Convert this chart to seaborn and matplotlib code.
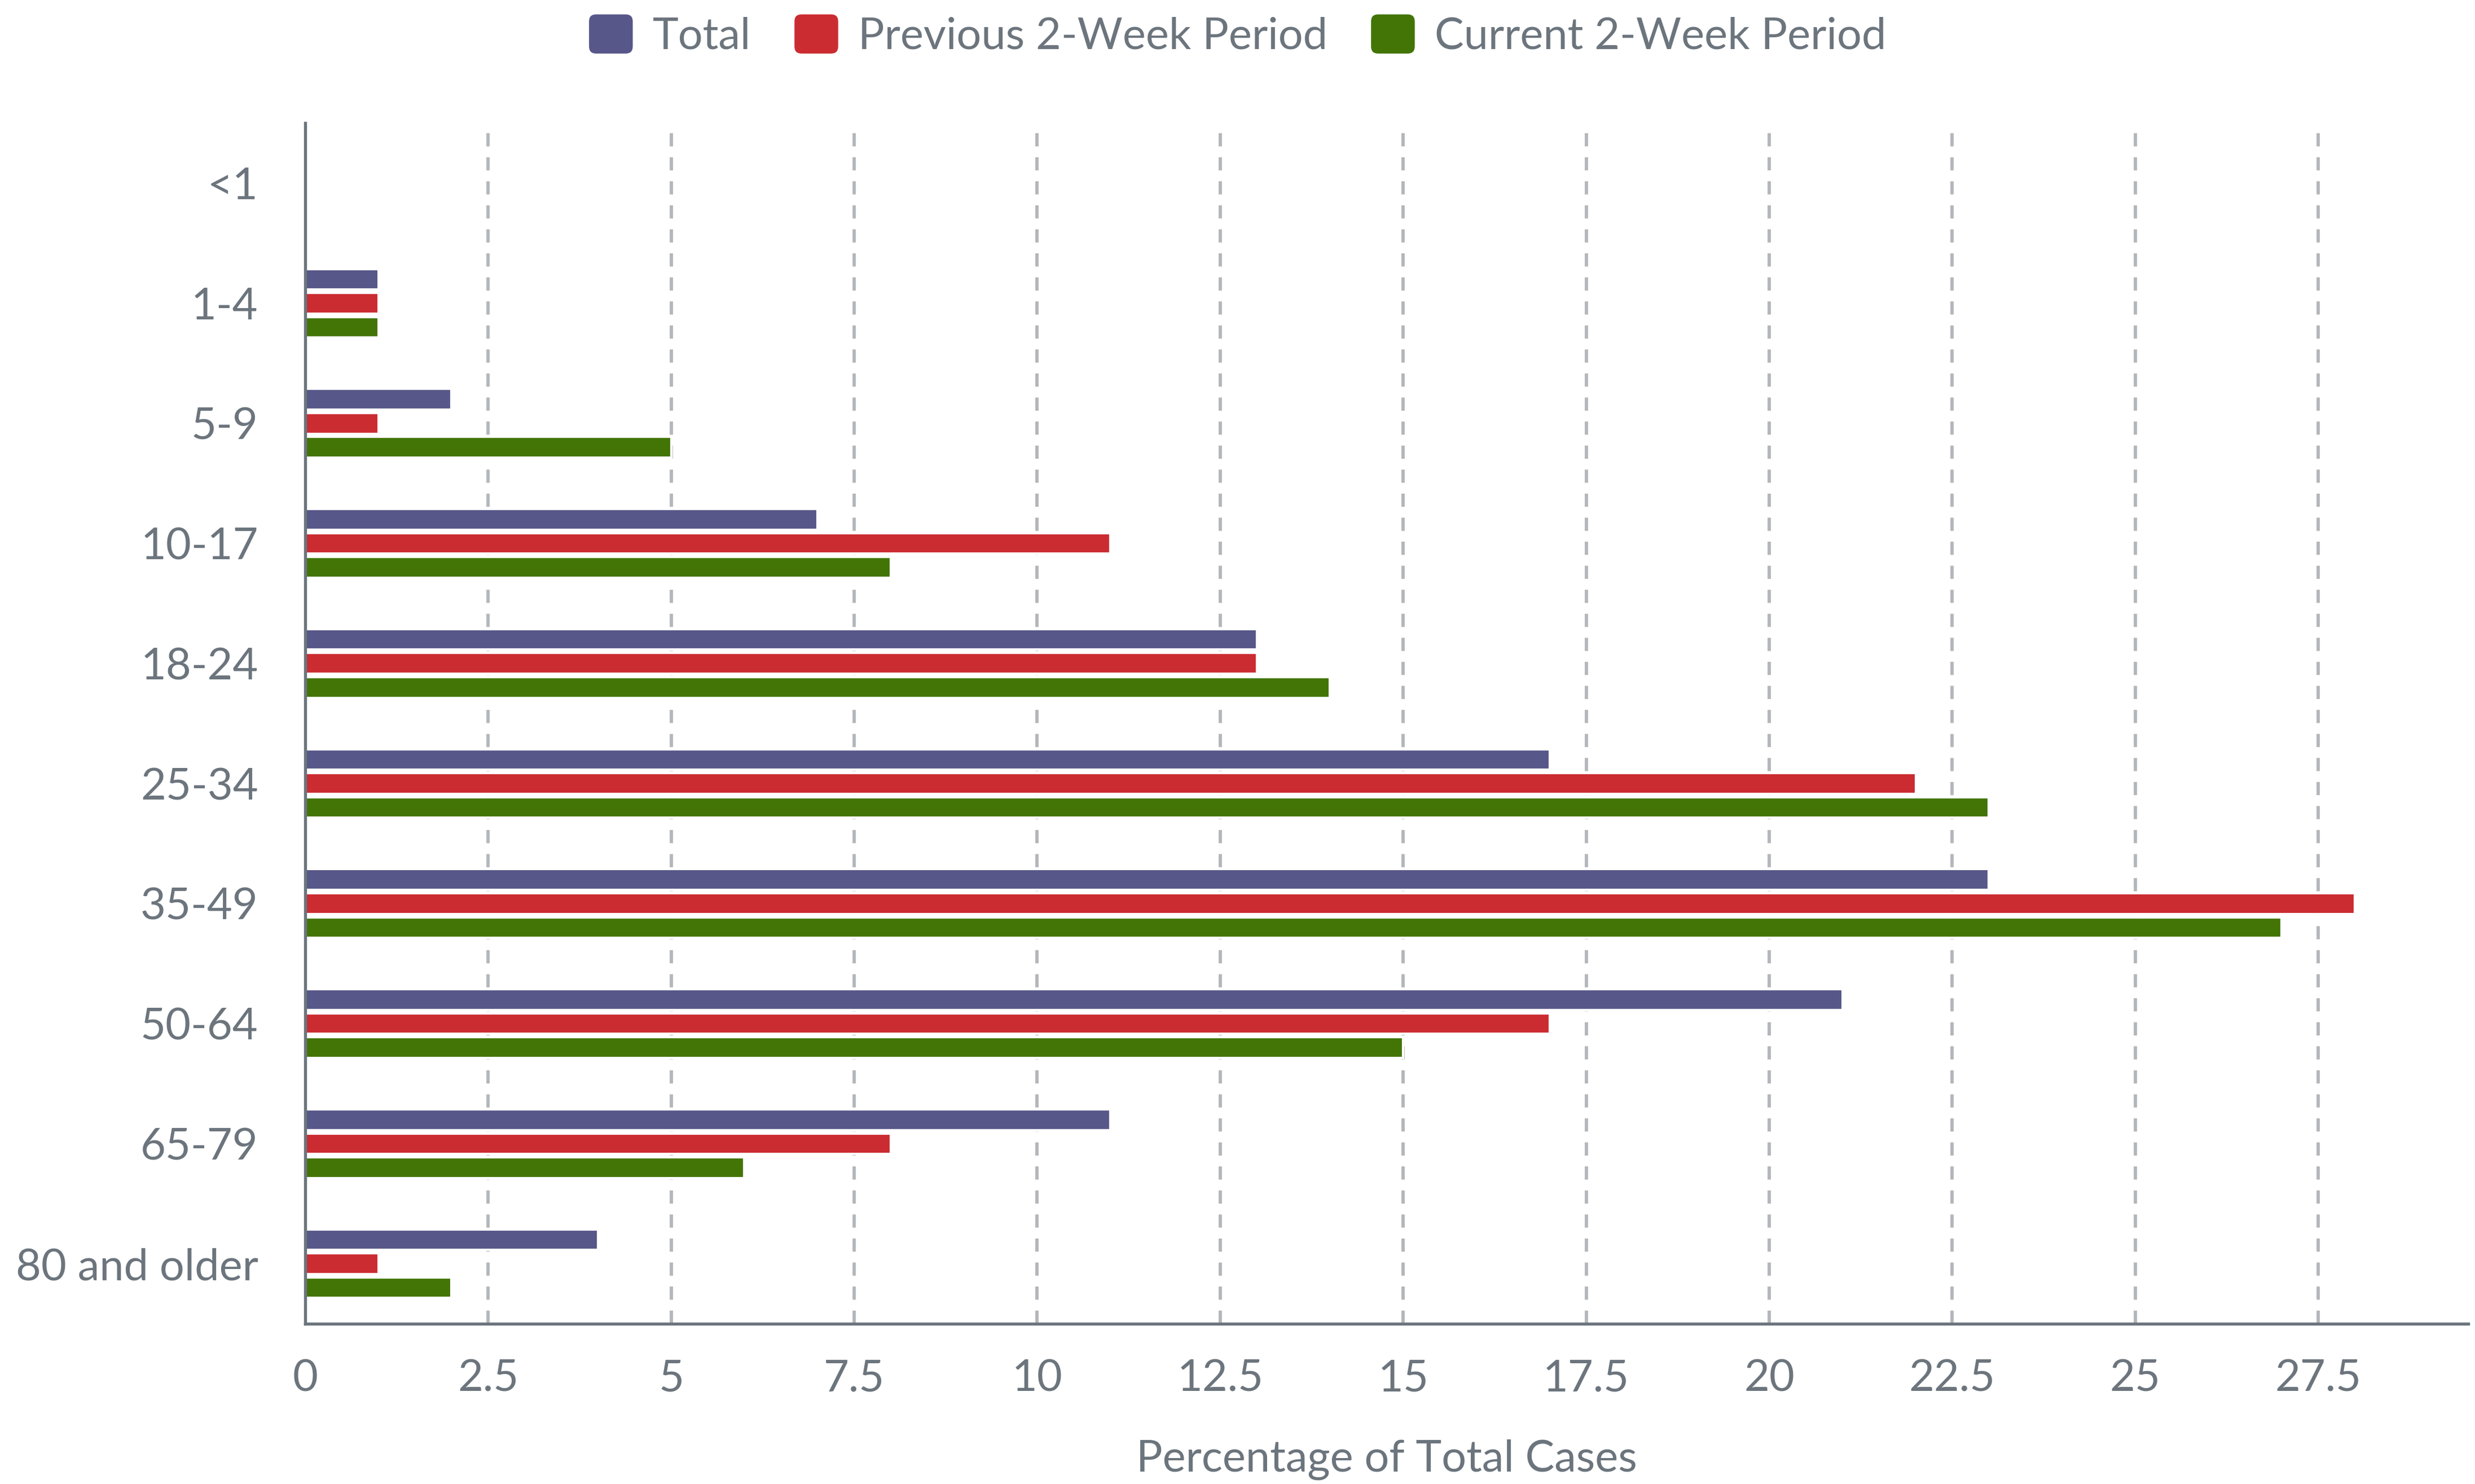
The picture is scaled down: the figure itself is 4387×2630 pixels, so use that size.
# ============================================================
# plot.py
# Share of cases by age group: total vs. previous / current
# 2-week period, drawn as grouped horizontal bars.
# ============================================================

import matplotlib
matplotlib.use("Agg")
import matplotlib.pyplot as plt
import pandas as pd
import seaborn as sns
from matplotlib.patches import Patch, FancyBboxPatch
from matplotlib.legend_handler import HandlerPatch
from matplotlib.ticker import FuncFormatter, MultipleLocator


# ------------------------------------------------------------
# Data
# ------------------------------------------------------------
AGE_GROUPS = ["<1", "1-4", "5-9", "10-17", "18-24", "25-34",
              "35-49", "50-64", "65-79", "80 and older"]

SERIES = ["Total", "Previous 2-Week Period", "Current 2-Week Period"]

TOTAL = [0, 1, 2, 7, 13, 17, 23, 21, 11, 4]
PREVIOUS = [0, 1, 1, 11, 13, 22, 28, 17, 8, 1]
CURRENT = [0, 1, 5, 8, 14, 23, 27, 15, 6, 2]

COLORS = ["#585789", "#cb2c32", "#427506"]
TEXT_GRAY = "#6c757d"
GRID_GRAY = "#b3b7bb"

X_MAX = 29.55
X_LABEL = "Percentage of Total Cases"
FONT_SIZE = 18.6


class RoundedSquareHandler(HandlerPatch):
    """Legend handle drawn as a small rounded square instead of a flat rectangle."""

    def create_artists(self, legend, orig_handle, xdescent, ydescent,
                       width, height, fontsize, trans):
        box = FancyBboxPatch(
            (-xdescent, -ydescent), width, height,
            boxstyle=f"round,pad=0,rounding_size={height * 0.18}",
            facecolor=orig_handle.get_facecolor(),
            edgecolor="none",
            transform=trans,
        )
        return [box]


def build_frame():
    # long format so seaborn can split the bars by hue
    rows = []
    for name, values in zip(SERIES, [TOTAL, PREVIOUS, CURRENT]):
        for age, v in zip(AGE_GROUPS, values):
            rows.append({"age": age, "series": name, "value": v})
    return pd.DataFrame(rows)


def main():
    sns.set_theme(style="white")
    plt.rcParams.update({
        "font.family": ["Lato", "DejaVu Sans"],
        "text.color": TEXT_GRAY,
        "axes.labelcolor": TEXT_GRAY,
        "xtick.color": TEXT_GRAY,
        "ytick.color": TEXT_GRAY,
    })

    df = build_frame()

    fig = plt.figure(figsize=(4387 / 300, 2630 / 300), dpi=300)
    ax = fig.add_axes([0.1233, 0.108, 0.874, 0.809])

    sns.barplot(
        data=df, x="value", y="age", hue="series",
        order=AGE_GROUPS, hue_order=SERIES,
        palette=COLORS, orient="h",
        width=0.6, gap=0.14, saturation=1,
        errorbar=None, legend=False, ax=ax,
    )

    ax.set_xlim(0, X_MAX)
    ax.set_ylim(len(AGE_GROUPS) - 0.5, -0.5)

    # dashed vertical guides every 2.5 %
    ax.xaxis.set_major_locator(MultipleLocator(2.5))
    ax.xaxis.set_major_formatter(FuncFormatter(lambda v, _: f"{v:g}"))
    ax.grid(axis="x", color=GRID_GRAY, linewidth=1.4,
            linestyle=(0, (4.0, 3.3)))
    ax.set_axisbelow(True)

    for side in ["top", "right"]:
        ax.spines[side].set_visible(False)
    for side in ["left", "bottom"]:
        ax.spines[side].set_color(TEXT_GRAY)
        ax.spines[side].set_linewidth(1.3)

    ax.tick_params(axis="x", length=0, pad=15, labelsize=FONT_SIZE)
    ax.tick_params(axis="y", length=0, pad=20, labelsize=FONT_SIZE)

    ax.set_ylabel("")
    ax.set_xlabel(X_LABEL, fontsize=FONT_SIZE, labelpad=17)

    handles = [Patch(facecolor=c, label=s) for c, s in zip(COLORS, SERIES)]
    fig.legend(
        handles=handles, loc="center", bbox_to_anchor=(0.5, 0.976),
        ncol=3, frameon=False, fontsize=FONT_SIZE,
        handlelength=1.0, handleheight=1.0,
        handletextpad=0.45, columnspacing=1.0,
        handler_map={Patch: RoundedSquareHandler()},
    )

    fig.savefig("out.png", dpi=300)
    plt.close(fig)


if __name__ == "__main__":
    main()
